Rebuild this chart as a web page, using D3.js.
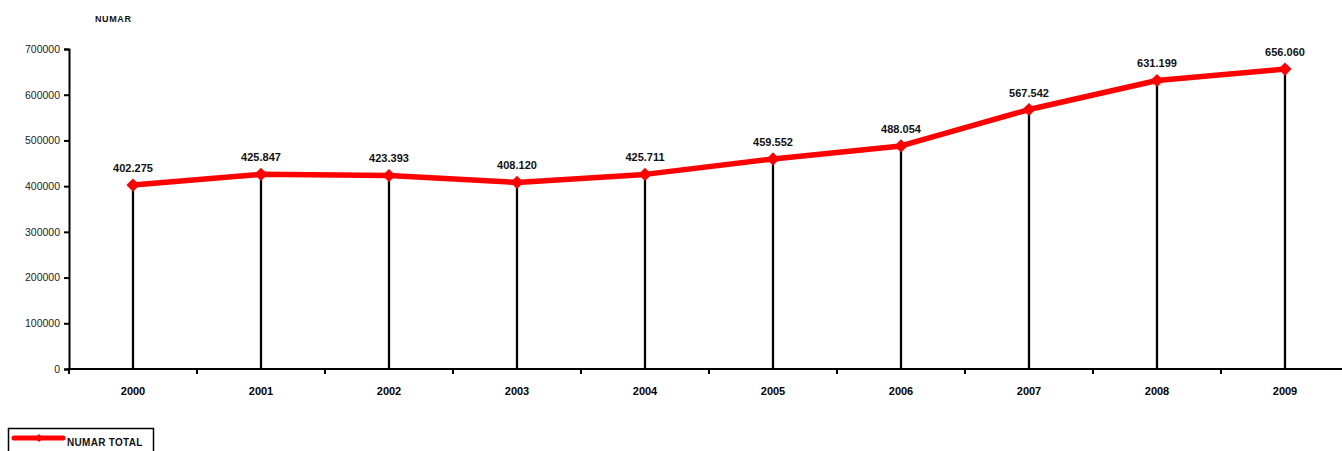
<!DOCTYPE html>
<html>
<head>
<meta charset="utf-8">
<script src="https://cdn.jsdelivr.net/npm/d3@7"></script>
<style>
  body { margin: 0; background: #fff; }
  text { font-family: "Liberation Sans", Arial, sans-serif; }
</style>
</head>
<body>
<script>
// canvas size
const width = 1342;
const height = 451;

// data
const years = ['2000', '2001', '2002', '2003', '2004', '2005', '2006', '2007', '2008', '2009'];
const totals = [402275, 425847, 423393, 408120, 425711, 459552, 488054, 567542, 631199, 656060];
const valueLabels = ['402.275', '425.847', '423.393', '408.120', '425.711', '459.552', '488.054', '567.542', '631.199', '656.060'];
const yTicks = [0, 100000, 200000, 300000, 400000, 500000, 600000, 700000];

// plot area
const padding = {left: 69, right: -7, top: 49, bottom: 82};

const svg = d3.select('body')
    .append('svg')
    .attr('width', width)
    .attr('height', height);

// x scale: one band per year, 128px each
const xScale = d3.scaleBand()
    .domain(years)
    .range([padding.left, width - padding.right]);

const yScale = d3.scaleLinear()
    .domain([0, 700000])
    .range([height - padding.bottom, padding.top]);

const cx = d => xScale(d) + xScale.bandwidth() / 2;

// drop lines from each point down to the axis
svg.selectAll('.drop')
    .data(years)
    .enter()
    .append('line')
    .attr('class', 'drop')
    .attr('x1', d => cx(d))
    .attr('x2', d => cx(d))
    .attr('y1', (d, i) => yScale(totals[i]))
    .attr('y2', yScale(0))
    .attr('stroke', '#000')
    .attr('stroke-width', 2.3);

// y axis
const yAxis = d3.axisLeft(yScale)
    .tickValues(yTicks)
    .tickFormat(d => d)
    .tickSize(5)
    .tickPadding(4);

const gy = svg.append('g')
    .attr('transform', 'translate(' + padding.left + ',0)')
    .call(yAxis);
gy.select('.domain').attr('stroke-width', 2);
gy.selectAll('.tick line').attr('stroke-width', 2);
gy.selectAll('.tick text')
    .attr('font-size', 10.5)
    .attr('fill', '#222')
    .attr('font-family', '"Liberation Sans", Arial, sans-serif');

// x axis: ticks between categories
const xAxis = d3.axisBottom(xScale)
    .tickSize(0)
    .tickPadding(18);

const gx = svg.append('g')
    .attr('transform', 'translate(0,' + yScale(0) + ')')
    .call(xAxis);
gx.select('.domain').attr('stroke-width', 2).attr('d', 'M' + (padding.left - 2) + ',0H' + width);
gx.selectAll('.tick text')
    .attr('font-size', 11)
    .attr('font-weight', 'bold')
    .attr('fill', '#000')
    .attr('font-family', '"Liberation Sans", Arial, sans-serif');

gx.selectAll('.sep')
    .data(years)
    .enter()
    .append('line')
    .attr('class', 'sep')
    .attr('x1', d => xScale(d))
    .attr('x2', d => xScale(d))
    .attr('y1', 0)
    .attr('y2', 5)
    .attr('stroke', '#000')
    .attr('stroke-width', 2);

// line
const line = d3.line()
    .x((d, i) => cx(years[i]))
    .y(d => yScale(d));

svg.append('path')
    .datum(totals)
    .attr('d', line)
    .attr('fill', 'none')
    .attr('stroke', '#ff0000')
    .attr('stroke-width', 5.5)
    .attr('stroke-linejoin', 'round');

// diamond markers
svg.selectAll('.marker')
    .data(totals)
    .enter()
    .append('path')
    .attr('class', 'marker')
    .attr('d', d3.symbol().type(d3.symbolDiamond2).size(110))
    .attr('transform', (d, i) => 'translate(' + cx(years[i]) + ',' + yScale(d) + ')')
    .attr('fill', '#ff0000');

// value labels
svg.selectAll('.vlabel')
    .data(valueLabels)
    .enter()
    .append('text')
    .attr('class', 'vlabel')
    .attr('x', (d, i) => cx(years[i]))
    .attr('y', (d, i) => yScale(totals[i]) - 13)
    .attr('text-anchor', 'middle')
    .attr('font-size', 11)
    .attr('font-weight', 'bold')
    .attr('fill', '#111')
    .text(d => d);

// axis title
svg.append('text')
    .attr('x', 95)
    .attr('y', 22)
    .attr('font-size', 9)
    .attr('letter-spacing', 0.6)
    .attr('font-weight', 'bold')
    .attr('fill', '#111')
    .text('NUMAR');

// legend
const legend = svg.append('g');
legend.append('rect')
    .attr('x', 8.5)
    .attr('y', 428.5)
    .attr('width', 145)
    .attr('height', 40)
    .attr('fill', '#fff')
    .attr('stroke', '#000')
    .attr('stroke-width', 1.5);
legend.append('line')
    .attr('x1', 14)
    .attr('x2', 63)
    .attr('y1', 438)
    .attr('y2', 438)
    .attr('stroke', '#ff0000')
    .attr('stroke-width', 5)
    .attr('stroke-linecap', 'round');
legend.append('path')
    .attr('d', d3.symbol().type(d3.symbolDiamond2).size(40))
    .attr('transform', 'translate(39,438)')
    .attr('fill', '#ff0000');
legend.append('text')
    .attr('x', 67)
    .attr('y', 446)
    .attr('font-size', 10)
    .attr('letter-spacing', 0.3)
    .attr('font-weight', 'bold')
    .attr('fill', '#111')
    .text('NUMAR TOTAL');
</script>
</body>
</html>
